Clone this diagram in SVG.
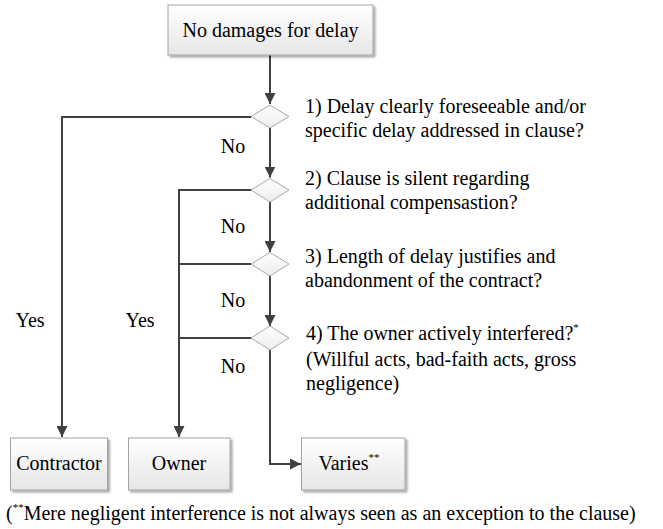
<svg xmlns="http://www.w3.org/2000/svg" width="663" height="529" viewBox="0 0 663 529">
<style>
  text { font-family: "Liberation Serif", "Times New Roman", Times, Tinos, "Noto Serif", "DejaVu Serif", FreeSerif, serif; font-size: 20px; fill: #000; }
  .c { text-anchor: middle; }
  .box { fill: url(#boxg); stroke: #a3a3a3; stroke-width: 1; filter: url(#sh); }
  .dia { fill: url(#diag); stroke: #a8a8a8; stroke-width: 1; }
  .ln { fill: none; stroke: #404040; stroke-width: 2; }
  .sup { font-size: 11px; }
</style>
<defs>
  <linearGradient id="boxg" x1="0" y1="0" x2="0" y2="1">
    <stop offset="0" stop-color="#ffffff"/>
    <stop offset="1" stop-color="#e6e6e6"/>
  </linearGradient>
  <linearGradient id="diag" x1="0" y1="0" x2="0" y2="1">
    <stop offset="0" stop-color="#ffffff"/>
    <stop offset="1" stop-color="#ececec"/>
  </linearGradient>
  <filter id="sh" x="-10%" y="-10%" width="125%" height="130%">
    <feGaussianBlur in="SourceAlpha" stdDeviation="1"/>
    <feOffset dx="2" dy="2" result="b"/>
    <feComponentTransfer><feFuncA type="linear" slope="0.35"/></feComponentTransfer>
    <feMerge><feMergeNode/><feMergeNode in="SourceGraphic"/></feMerge>
  </filter>
  <marker id="arr" viewBox="0 0 10 10" refX="10" refY="5" markerWidth="5.5" markerHeight="5.5" orient="auto" markerUnits="strokeWidth">
    <path d="M0,0 L10,5 L0,10 z" fill="#404040"/>
  </marker>
  <clipPath id="clipNo4"><rect x="200" y="355" width="60" height="18"/></clipPath>
</defs>

<g id="connectors">
  <path class="ln" d="M270,55 V104" marker-end="url(#arr)"/>
  <path class="ln" d="M251,117 H62 V437" marker-end="url(#arr)"/>
  <path class="ln" d="M270,128 V177.5" marker-end="url(#arr)"/>
  <path class="ln" d="M251,190 H179 V437" marker-end="url(#arr)"/>
  <path class="ln" d="M270,202 V252" marker-end="url(#arr)"/>
  <path class="ln" d="M251,264 H179"/>
  <path class="ln" d="M270,276 V326" marker-end="url(#arr)"/>
  <path class="ln" d="M251,338 H179"/>
  <path class="ln" d="M270,350 V464 H301" marker-end="url(#arr)"/>
  <text x="233" y="153" class="c">No</text>
  <text x="233" y="233" class="c">No</text>
  <text x="233" y="307" class="c">No</text>
  <text x="233" y="373" class="c" clip-path="url(#clipNo4)">No</text>
  <text x="30" y="327" class="c">Yes</text>
  <text x="140" y="327" class="c">Yes</text>
</g>

<g id="start">
  <rect class="box" x="168" y="5" width="205" height="50"/>
  <text x="270.5" y="37" class="c">No damages for delay</text>
</g>

<g id="q1">
  <polygon class="dia" points="270,105 289,116.5 270,128 251,116.5"/>
  <text x="305" y="113">1) Delay clearly foreseeable and/or</text>
  <text x="305" y="137">specific delay addressed in clause?</text>
</g>

<g id="q2">
  <polygon class="dia" points="270,178.5 289,190 270,202 251,190"/>
  <text x="305" y="185">2) Clause is silent regarding</text>
  <text x="305" y="209">additional compensastion?</text>
</g>

<g id="q3">
  <polygon class="dia" points="270,252.5 289,264 270,276 251,264"/>
  <text x="305" y="263">3) Length of delay justifies and</text>
  <text x="305" y="287">abandonment of the contract?</text>
</g>

<g id="q4">
  <polygon class="dia" points="270,326 289,338 270,350 251,338"/>
  <text x="306" y="340">4) The owner actively interfered?<tspan class="sup" dy="-9">*</tspan></text>
  <text x="306" y="366">(Willful acts, bad-faith acts, gross</text>
  <text x="306" y="390">negligence)</text>
</g>

<g id="contractor">
  <rect class="box" x="10.5" y="438" width="97" height="52"/>
  <text x="59" y="470" class="c">Contractor</text>
</g>

<g id="owner">
  <rect class="box" x="128.5" y="438" width="101.5" height="52"/>
  <text x="179" y="470" class="c">Owner</text>
</g>

<g id="varies">
  <rect class="box" x="301.5" y="438" width="103.5" height="52"/>
  <text x="349" y="470" class="c">Varies<tspan class="sup" dy="-9">**</tspan></text>
</g>

<g id="footnote">
  <text x="6" y="520">(<tspan class="sup" dy="-9">**</tspan><tspan dy="9">Mere negligent interference is not always seen as an exception to the clause)</tspan></text>
</g>
</svg>
